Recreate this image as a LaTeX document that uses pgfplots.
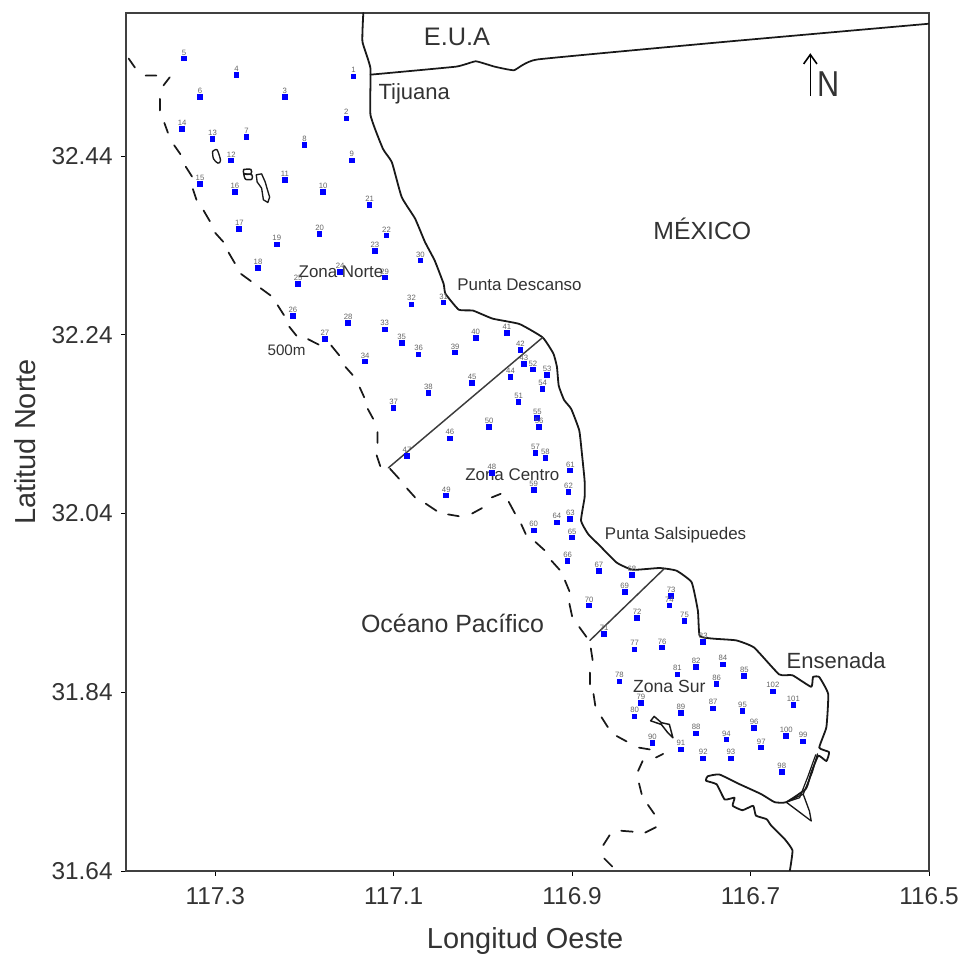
\documentclass[border=0pt]{standalone}
\usepackage{fontspec}
\setmainfont{Liberation Sans}
\usepackage{pgfplots}
\usepackage{pgfplotstable}
\pgfplotsset{compat=1.18}
\usetikzlibrary{arrows.meta}
\definecolor{inkc}{gray}{0.1}
\definecolor{txtc}{gray}{0.2}
\newcommand{\fs}[1]{\fontsize{#1}{#1}\selectfont}
\pgfplotstableread{
lon lat lab
117.145 32.529 1
117.153 32.482 2
117.222 32.506 3
117.276 32.531 4
117.335 32.549 5
117.317 32.506 6
117.265 32.461 7
117.200 32.452 8
117.147 32.435 9
117.179 32.400 10
117.222 32.413 11
117.282 32.435 12
117.303 32.459 13
117.337 32.470 14
117.317 32.409 15
117.278 32.400 16
117.273 32.358 17
117.252 32.315 18
117.231 32.341 19
117.183 32.353 20
117.127 32.385 21
117.108 32.351 22
117.121 32.334 23
117.160 32.310 24
117.207 32.297 25
117.213 32.261 26
117.177 32.235 27
117.151 32.253 28
117.110 32.304 29
117.070 32.323 30
117.044 32.276 31
117.080 32.274 32
117.110 32.246 33
117.132 32.210 34
117.091 32.231 35
117.072 32.218 36
117.100 32.158 37
117.061 32.175 38
117.031 32.220 39
117.008 32.236 40
116.973 32.242 41
116.958 32.223 42
116.954 32.207 43
116.969 32.193 44
117.012 32.186 45
117.037 32.124 46
117.085 32.104 47
116.990 32.085 48
117.041 32.060 49
116.993 32.137 50
116.960 32.165 51
116.944 32.201 52
116.928 32.195 53
116.933 32.179 54
116.939 32.147 55
116.937 32.137 56
116.941 32.108 57
116.930 32.102 58
116.943 32.066 59
116.943 32.021 60
116.902 32.088 61
116.904 32.064 62
116.902 32.034 63
116.917 32.030 64
116.900 32.013 65
116.905 31.987 66
116.870 31.976 67
116.833 31.971 68
116.841 31.952 69
116.881 31.937 70
116.864 31.905 71
116.827 31.923 72
116.789 31.948 73
116.791 31.937 74
116.774 31.920 75
116.799 31.890 76
116.830 31.888 77
116.847 31.852 78
116.823 31.828 79
116.830 31.813 80
116.782 31.860 81
116.761 31.868 82
116.753 31.896 83
116.731 31.871 84
116.707 31.858 85
116.738 31.849 86
116.742 31.822 87
116.761 31.794 88
116.778 31.817 89
116.810 31.783 90
116.778 31.776 91
116.753 31.766 92
116.722 31.766 93
116.727 31.787 94
116.709 31.819 95
116.696 31.800 96
116.688 31.778 97
116.665 31.751 98
116.641 31.785 99
116.660 31.791 100
116.652 31.826 101
116.675 31.841 102
}\stations
\pgfplotstableread{
lon lat
117.134 32.600
117.135 32.568
117.126 32.538
117.126 32.486
117.112 32.448
117.102 32.433
117.091 32.394
117.076 32.370
117.065 32.344
117.054 32.323
117.044 32.297
117.042 32.286
117.027 32.268
117.011 32.267
116.989 32.258
116.959 32.252
116.933 32.237
116.921 32.219
116.917 32.204
116.915 32.183
116.909 32.167
116.901 32.157
116.892 32.133
116.889 32.107
116.886 32.077
116.886 32.058
116.890 32.032
116.882 32.017
116.869 32.004
116.850 31.985
116.832 31.977
116.802 31.979
116.783 31.976
116.766 31.963
116.759 31.931
116.757 31.903
116.742 31.900
116.716 31.898
116.696 31.890
116.668 31.860
116.653 31.859
116.632 31.846
116.630 31.857
116.623 31.857
116.613 31.838
116.615 31.801
116.623 31.778
116.612 31.773
116.615 31.763
116.624 31.769
116.632 31.750
116.638 31.732
116.660 31.717
116.673 31.717
116.688 31.726
116.712 31.737
116.735 31.748
116.748 31.746
116.750 31.741
116.738 31.737
116.729 31.720
116.718 31.722
116.720 31.713
116.709 31.708
116.697 31.713
116.694 31.702
116.682 31.698
116.677 31.691
116.662 31.676
116.653 31.663
116.656 31.640
}\coast
\pgfplotstableread{
lon lat
117.397 32.549
117.390 32.539
nan nan
117.378 32.530
117.366 32.530
nan nan
117.358 32.519
117.351 32.528
nan nan
117.362 32.504
117.362 32.491
nan nan
117.357 32.477
117.353 32.466
nan nan
117.346 32.452
117.339 32.442
nan nan
117.333 32.428
117.326 32.417
nan nan
117.325 32.403
117.321 32.391
nan nan
117.313 32.379
117.306 32.367
nan nan
117.300 32.354
117.291 32.344
nan nan
117.285 32.332
117.278 32.320
nan nan
117.271 32.308
117.260 32.300
nan nan
117.249 32.292
117.238 32.284
nan nan
117.230 32.273
117.223 32.262
nan nan
117.217 32.249
117.209 32.239
nan nan
117.196 32.235
117.184 32.229
nan nan
117.170 32.228
117.161 32.217
nan nan
117.154 32.204
117.146 32.195
nan nan
117.138 32.181
117.133 32.170
nan nan
117.129 32.157
117.123 32.146
nan nan
117.118 32.131
117.118 32.119
nan nan
117.119 32.105
117.115 32.093
nan nan
117.104 32.090
117.094 32.079
nan nan
117.085 32.068
117.076 32.058
nan nan
117.064 32.051
117.052 32.043
nan nan
117.039 32.039
117.027 32.037
nan nan
117.012 32.040
117.001 32.046
nan nan
116.990 32.058
116.980 32.062
nan nan
116.971 32.053
116.964 32.040
nan nan
116.957 32.028
116.952 32.017
nan nan
116.941 32.008
116.931 31.999
nan nan
116.923 31.987
116.914 31.977
nan nan
116.908 31.965
116.903 31.953
nan nan
116.903 31.939
116.900 31.925
nan nan
116.892 31.913
116.884 31.902
nan nan
116.879 31.889
116.877 31.876
nan nan
116.880 31.862
116.880 31.849
nan nan
116.876 31.838
116.874 31.825
nan nan
116.867 31.812
116.860 31.801
nan nan
116.850 31.791
116.839 31.785
nan nan
116.825 31.778
116.813 31.776
nan nan
116.806 31.767
116.798 31.771
nan nan
116.821 31.763
116.826 31.752
nan nan
116.825 31.738
116.822 31.726
nan nan
116.815 31.714
116.808 31.704
nan nan
116.806 31.689
116.818 31.683
nan nan
116.832 31.684
116.845 31.685
nan nan
116.858 31.680
116.865 31.669
nan nan
116.864 31.654
116.855 31.645
}\isobath
\begin{document}
\begin{tikzpicture}
\path[use as bounding box] (0,0) rectangle (722.25pt,716.25pt);
\begin{axis}[
  at={(94.5pt,63pt)}, anchor=south west,
  scale only axis, width=602.25pt, height=643.5pt,
  x dir=reverse, xmin=116.5, xmax=117.4, ymin=31.64, ymax=32.60,
  xtick={117.3,117.1,116.9,116.7,116.5},
  xticklabels={117.3,117.1,116.9,116.7,116.5},
  ytick={31.64,31.84,32.04,32.24,32.44},
  yticklabels={31.64,31.84,32.04,32.24,32.44},
  xtick pos=bottom, ytick pos=left, tick align=outside,
  major tick length=3.5pt,
  tick style={black,line width=0.7pt},
  axis line style={black!75,line width=0.9pt},
  tick label style={font=\fs{18.3},text=txtc},
  xticklabel style={yshift=-5.5pt},
  yticklabel style={xshift=-3pt},
  xlabel={Longitud Oeste}, ylabel={Latitud Norte},
  label style={font=\fs{21.7},text=txtc},
  xlabel style={at={(axis description cs:0.497,-0.0816)},anchor=center},
  ylabel style={at={(axis description cs:-0.1258,0.5)},anchor=center},
  unbounded coords=jump,
  every axis plot/.append style={line join=round,line cap=round},
]
\addplot[inkc,line width=1.35pt,smooth,tension=0.25] table[x=lon,y=lat] {\coast};
\addplot[inkc,line width=1.3pt,smooth,tension=0.2] coordinates {(117.126,32.531)(117.030,32.540)(117.008,32.546)(116.987,32.540)(116.965,32.536)(116.939,32.548)(116.726,32.568)(116.5,32.588)};
\addplot[inkc,line width=1pt] coordinates {(116.625,31.771)(116.631,31.750)(116.641,31.726)(116.634,31.707)(116.632,31.696)(116.660,31.717)(116.641,31.726)};
\addplot[inkc,line width=0.9pt] coordinates {(116.627,31.770)(116.636,31.745)(116.645,31.722)(116.660,31.717)};
\addplot[inkc!85,line width=1.1pt] coordinates {(116.933,32.237)(117.106,32.091)};
\addplot[inkc!85,line width=1.1pt] coordinates {(116.797,31.978)(116.880,31.898)};
\addplot[inkc,line width=1.3pt] table[x=lon,y=lat] {\isobath};
% islands
\addplot[inkc,line width=1pt,smooth] coordinates {(117.303,32.445)(117.298,32.447)(117.294,32.435)(117.297,32.432)(117.302,32.437)(117.303,32.445)};
\addplot[inkc,line width=1.1pt,smooth] coordinates {(117.268,32.425)(117.260,32.425)(117.260,32.420)(117.268,32.420)(117.268,32.425)};
\addplot[inkc,line width=1.1pt,smooth] coordinates {(117.268,32.420)(117.259,32.419)(117.259,32.414)(117.266,32.414)(117.268,32.420)};
\addplot[inkc,line width=1pt] coordinates {(117.254,32.419)(117.248,32.420)(117.244,32.411)(117.242,32.404)(117.239,32.394)(117.241,32.388)(117.246,32.391)(117.248,32.404)(117.253,32.411)(117.254,32.419)};
\addplot[inkc,line width=1.1pt] coordinates {(116.812,31.808)(116.808,31.813)(116.800,31.806)(116.791,31.804)(116.787,31.789)(116.793,31.795)(116.800,31.804)(116.812,31.808)};
% stations
\addplot[blue,only marks,mark=square*,mark size=1.75pt,mark options={draw=blue,fill=blue,line width=0pt},
  point meta=explicit symbolic,nodes near coords,
  nodes near coords style={font=\fs{5.8},text=black!60,anchor=south,inner sep=0pt,yshift=2.6pt}]
  table[x=lon,y=lat,meta=lab] {\stations};
% text
\node[font=\fs{19},text=txtc] at (axis cs:117.029,32.573) {E.U.A};
\node[font=\fs{16.5},text=txtc] at (axis cs:117.077,32.510) {Tijuana};
\node[font=\fs{18.6},text=txtc] at (axis cs:116.754,32.359) {MÉXICO};
\node[font=\fs{12.7},text=txtc] at (axis cs:116.959,32.296) {Punta Descanso};
\node[font=\fs{12.7},text=txtc] at (axis cs:117.159,32.310) {Zona Norte};
\node[font=\fs{11.4},text=txtc] at (axis cs:117.220,32.223) {500m};
\node[font=\fs{12.7},text=txtc] at (axis cs:116.967,32.084) {Zona Centro};
\node[font=\fs{12.7},text=txtc] at (axis cs:116.784,32.016) {Punta Salsipuedes};
\node[font=\fs{18.7},text=txtc] at (axis cs:117.034,31.917) {Océano Pacífico};
\node[font=\fs{16.5},text=txtc] at (axis cs:116.604,31.875) {Ensenada};
\node[font=\fs{13.2},text=txtc] at (axis cs:116.791,31.846) {Zona Sur};
\node[font=\fs{27},text=txtc,xscale=0.85] at (axis cs:116.613,32.520) {N};
\draw[-{Straight Barb[length=7pt,width=10pt]},line width=1.2pt,black] (axis cs:116.633,32.507) -- (axis cs:116.633,32.555);
\end{axis}
\end{tikzpicture}
\end{document}
